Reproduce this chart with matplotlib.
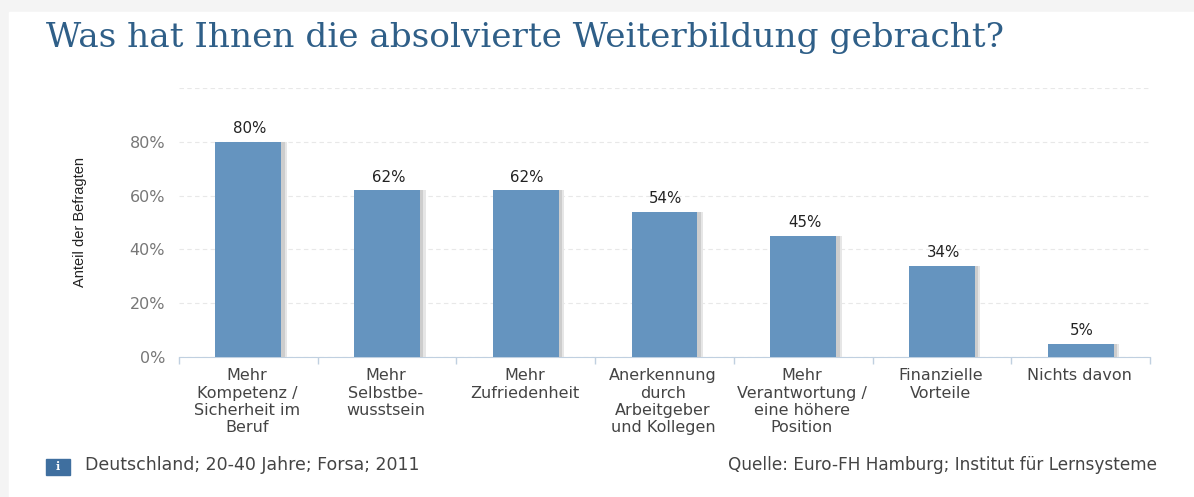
import matplotlib
matplotlib.use("Agg")
import matplotlib.pyplot as plt
import matplotlib.patheffects as pe
from matplotlib.patches import Rectangle

categories = ["Mehr\nKompetenz /\nSicherheit im\nBeruf", "Mehr\nSelbstbe-\nwusstsein", "Mehr\nZufriedenheit",
              "Anerkennung\ndurch\nArbeitgeber\nund Kollegen", "Mehr\nVerantwortung /\neine höhere\nPosition",
              "Finanzielle\nVorteile", "Nichts davon"]
values = [80, 62, 62, 54, 45, 34, 5]
y_ticks = [0, 20, 40, 60, 80, 100]
y_labels = ["0%", "20%", "40%", "60%", "80%", ""]

W, H = 1194, 497
fig = plt.figure(figsize=(W / 100, H / 100), dpi=100, facecolor="#f4f4f4")

# white card behind everything
fig.patches.append(Rectangle((9 / W, 0), 1 - 9 / W, 1 - 12 / H, transform=fig.transFigure, color="white", zorder=-1))

ax = fig.add_axes([179 / W, 1 - 357 / H, (1150 - 179) / W, (357 - 88) / H])
ax.patch.set_visible(False)

x = range(len(values))
bars = ax.bar(x, values, width=0.475, color="#6594bf", zorder=3)
# two grey offsets give the soft shadow on the right of each bar
for b in bars:
    b.set_path_effects([pe.SimplePatchShadow(offset=(4, 0), shadow_rgbFace="#e6e6e6", alpha=1),
                        pe.SimplePatchShadow(offset=(2.5, 0), shadow_rgbFace="#cdcdcd", alpha=1), pe.Normal()])

for i, v in enumerate(values):
    ax.annotate(str(v) + "%", (i + 0.01, v), xytext=(0, 4), textcoords="offset points", ha="center", va="bottom",
                fontsize=10.8, color="#222222", family="DejaVu Sans")

ax.set_xlim(-0.5, 6.5)
ax.set_ylim(0, 100)
ax.set_yticks(y_ticks)
ax.set_yticklabels(y_labels, fontsize=11.5, color="#777777", family="DejaVu Sans")
ax.tick_params(axis="y", length=0, pad=10)
ax.yaxis.grid(True, color="#e8e8e8", linestyle=(0, (4, 3)), linewidth=0.8)
ax.set_axisbelow(True)

# ticks sit on the category edges, labels in the middle
ax.set_xticks([i - 0.5 for i in range(8)])
ax.set_xticklabels([])
ax.tick_params(axis="x", length=5, color="#c0d0e0", width=1)
for s in ax.spines.values():
    s.set_visible(False)
ax.spines["bottom"].set_visible(True)
ax.spines["bottom"].set_color("#c0d0e0")

for i, c in enumerate(categories):
    ax.annotate(c, (i, 0), xytext=(-1, -8), textcoords="offset points", ha="center", va="top",
                fontsize=11.5, color="#444444", family="DejaVu Sans", linespacing=1.2)

fig.text(46 / W, 1 - 38 / H, "Was hat Ihnen die absolvierte Weiterbildung gebracht?", fontsize=24.7,
         family="DejaVu Serif", color="#2f5f88", va="center", ha="left")
fig.text(80 / W, 1 - 222 / H, "Anteil der Befragten", rotation=90, fontsize=10.5, family="Liberation Sans",
         color="#222222", ha="center", va="center")

fig.patches.append(Rectangle((46 / W, 1 - 475 / H), 24 / W, 16 / H, transform=fig.transFigure, color="#3f6f9f", zorder=1))
fig.text(58 / W, 1 - 467 / H, "i", fontsize=8, family="DejaVu Serif", color="white", weight="bold", ha="center", va="center")
fig.text(85 / W, 1 - 465 / H, "Deutschland; 20-40 Jahre; Forsa; 2011", fontsize=12.5, family="DejaVu Sans",
         color="#444444", va="center")
fig.text(1157 / W, 1 - 465 / H, "Quelle: Euro-FH Hamburg; Institut für Lernsysteme", fontsize=12.2,
         family="DejaVu Sans", color="#444444", va="center", ha="right")

fig.savefig("out.png", dpi=100, facecolor=fig.get_facecolor())
